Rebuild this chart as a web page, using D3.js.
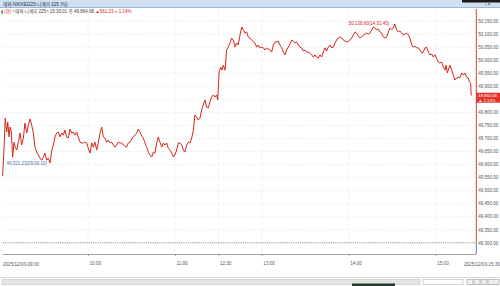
<!DOCTYPE html>
<html>
<head>
<meta charset="utf-8">
<script src="https://cdn.jsdelivr.net/npm/d3@7"></script>
<style>
  body { margin: 0; background: #fff; }
  svg { display: block; font-family: "Liberation Sans", "Noto Sans CJK KR", sans-serif; }
</style>
</head>
<body>
<script>
// trading minutes since 09:00 (lunch 11:30-12:30 removed)
var mins = [1.1, 2.0, 2.9, 3.9, 4.6, 5.5, 6.2, 7.1, 8.0, 8.9, 9.8, 10.8, 11.9, 13.1, 14.2, 15.4, 16.5, 17.7, 18.8, 20.0,
  21.1, 22.3, 23.4, 24.6, 25.7, 26.9, 28.0, 29.2, 30.3, 31.5, 32.6, 33.8, 35.0, 36.1, 37.2, 38.4, 39.5, 40.7, 41.9, 43.0,
  44.1, 45.3, 46.4, 47.6, 48.8, 49.9, 51.0, 52.2, 53.3, 54.5, 55.7, 56.8, 57.9, 59.1, 60.2, 61.4, 62.6, 63.7, 64.8, 66.0,
  67.1, 68.3, 69.5, 70.6, 71.7, 72.9, 74.0, 75.2, 76.4, 77.5, 78.6, 79.8, 80.9, 82.1, 83.3, 84.4, 85.5, 86.7, 87.8, 89.0,
  90.2, 91.3, 92.4, 93.6, 94.7, 95.9, 97.1, 98.2, 99.3, 100.5, 101.6, 102.8, 104.0, 105.1, 106.2, 107.4, 108.5, 109.7, 110.9, 112.0,
  113.1, 114.3, 115.4, 116.6, 117.8, 118.9, 120.0, 121.2, 122.3, 123.5, 124.7, 125.8, 126.9, 128.1, 129.2, 130.4, 131.6, 132.7, 133.8, 135.0,
  136.1, 137.3, 138.4, 139.5, 140.7, 141.9, 143.0, 144.2, 145.3, 146.5, 147.6, 148.8, 149.5,
  150.5, 151.6, 152.5, 153.4, 154.6, 155.7, 156.8, 158.0, 159.2, 160.3, 161.5, 162.6, 163.7, 164.9, 166.1, 167.2, 168.4, 169.5, 170.6, 171.8,
  173.0, 174.1, 175.2, 176.4, 177.5, 178.7, 179.9, 181.0, 182.1, 183.3, 184.4, 185.6, 186.8, 187.9, 189.1, 190.2, 191.3, 192.5, 193.7, 194.8,
  196.0, 197.1, 198.2, 199.4, 200.6, 201.7, 202.9, 204.0, 205.1, 206.3, 207.5, 208.6, 209.8, 210.9, 212.1, 213.2, 214.4, 215.5, 216.7, 217.8,
  218.9, 220.1, 221.3, 222.4, 223.6, 224.7, 225.8, 227.0, 228.2, 229.3, 230.5, 231.6, 232.7, 233.9, 235.1, 236.2, 237.4, 238.5, 239.7, 240.8,
  242.0, 243.1, 244.3, 245.4, 246.6, 247.7, 248.9, 250.0, 251.2, 252.3, 253.5, 254.6, 255.8, 256.9, 258.1, 259.2, 260.4, 261.5, 262.7, 263.8,
  265.0, 266.2, 267.3, 268.4, 269.6, 270.7, 271.75, 273.0, 274.2, 275.3, 276.5, 277.6, 278.8, 279.9, 281.1, 282.2, 283.4, 284.5, 285.7, 286.8,
  288.0, 289.1, 290.3, 291.4, 292.6, 293.7, 294.9, 296.0, 297.2, 298.3, 299.5, 300.6, 301.8, 302.9, 304.1, 305.2, 306.4, 307.1, 308.0, 309.1,
  309.8, 311.0, 312.1, 313.3, 314.5, 315.6, 316.7, 317.9, 319.0, 320.2, 321.3, 322.5, 323.2, 324.1, 324.5];

var prices = [49556, 49656, 49778, 49725, 49763, 49706, 49744, 49725, 49629, 49686, 49667, 49656, 49686, 49721, 49675, 49702, 49759, 49721, 49752, 49775,
  49752, 49721, 49667, 49648, 49637, 49625, 49617, 49629, 49644, 49617, 49625, 49606, 49656, 49675, 49706, 49721, 49725, 49706, 49721, 49713,
  49732, 49706, 49702, 49736, 49721, 49725, 49713, 49725, 49706, 49686, 49683, 49683, 49686, 49683, 49663, 49644, 49683, 49667, 49686, 49656,
  49683, 49721, 49744, 49706, 49702, 49686, 49694, 49683, 49686, 49675, 49667, 49675, 49686, 49683, 49683, 49675, 49671, 49667, 49683, 49686,
  49698, 49706, 49713, 49721, 49736, 49725, 49709, 49702, 49683, 49667, 49648, 49637, 49629, 49648, 49644, 49683, 49706, 49686, 49667, 49683,
  49675, 49683, 49663, 49656, 49644, 49629, 49637, 49656, 49683, 49683, 49675, 49656, 49648, 49675, 49686, 49683, 49702, 49732, 49790, 49782,
  49771, 49778, 49809, 49828, 49847, 49820, 49817, 49840, 49859, 49867, 49859, 49867, 49847,
  49955, 49974, 49962, 49981, 49962, 50039, 50050, 50066, 50085, 50077, 50050, 50066, 50058, 50096, 50127, 50116, 50104, 50108, 50089, 50085,
  50077, 50070, 50066, 50050, 50058, 50047, 50050, 50047, 50039, 50047, 50043, 50039, 50031, 50058, 50070, 50070, 50073, 50058, 50047, 50031,
  50020, 50039, 50050, 50062, 50077, 50073, 50066, 50070, 50058, 50050, 50047, 50035, 50039, 50031, 50031, 50027, 50020, 50012, 50020, 50012,
  50008, 50020, 50012, 50031, 50047, 50035, 50050, 50058, 50047, 50050, 50066, 50077, 50085, 50089, 50085, 50077, 50073, 50070, 50073, 50077,
  50085, 50096, 50108, 50104, 50093, 50085, 50089, 50096, 50100, 50104, 50100, 50104, 50116, 50127, 50123, 50116, 50119, 50108, 50104, 50089,
  50085, 50089, 50108, 50123, 50116, 50123, 50138.60, 50116, 50108, 50112, 50104, 50096, 50100, 50104, 50096, 50085, 50058, 50050, 50054, 50047,
  50047, 50039, 50027, 50031, 50047, 50050, 50031, 50020, 50024, 50012, 50020, 50008, 49993, 49989, 49993, 49974, 49962, 49981, 49951, 49970,
  49981, 49962, 49943, 49924, 49932, 49935, 49932, 49951, 49943, 49951, 49935, 49932, 49916, 49912, 49864.68];

var xTickMins = [60, 120, 150, 180, 240, 300];
var xTickLabels = ["10:00", "11:00", "12:30", "13:00", "14:00", "15:00"];
var xEndLabels = ["2025/12/03-09:00", "2025/12/03-15:30"];
var yTicks = d3.range(49300, 50150.1, 50);

var prevClose = 49303.45;
var lastPrice = 49864.68;
var change = 561.23;
var changePct = 1.14;
var maxInfo = { price: 50138.60, time: "14:31:45", min: 271.75 };
var minInfo = { price: 49521.23, time: "09:00:10" };

(function() {
  var width = 500;
  var height = 286;
  var red = "#d8261b";
  var blue = "#4a6fa8";

  var svg = d3.select("body")
    .append("svg")
    .attr("width", width)
    .attr("height", height);

  var x = d3.scaleLinear().domain([0, 328]).range([1.06, 476.3]);
  var y = d3.scaleLinear().domain([49300, 50150]).range([243, 21]);
  var plotTop = 9, plotBottom = 254, plotLeft = 3, plotRight = x.range()[1];
  var yl = y(lastPrice);

  // title bar
  svg.append("rect").attr("x", 0).attr("y", 0).attr("width", width).attr("height", 7.5)
    .attr("fill", "#cfe0f1");
  svg.append("line").attr("x1", 0).attr("x2", width).attr("y1", 7.5).attr("y2", 7.5)
    .attr("stroke", "#86a9d2").attr("stroke-width", 0.8);
  svg.append("rect").attr("x", 462).attr("y", 0).attr("width", 38).attr("height", 2.5).attr("fill", "#1a1a1a");
  svg.append("text").attr("x", 3).attr("y", 5.6).attr("font-size", 4.6).attr("fill", "#1d2b44")
    .text("해외-NIKKEI225-니케이 225 (틱)");
  svg.append("text").attr("x", 485).attr("y", 6).attr("font-size", 4.5).attr("fill", "#333").text("▫ ×");

  // legend line
  svg.append("rect").attr("x", 1.5).attr("y", 10.2).attr("width", 1).attr("height", 3.6).attr("fill", "#222");
  var leg = svg.append("text").attr("x", 4).attr("y", 13.4).attr("font-size", 4.5).attr("fill", "#444");
  leg.append("tspan").attr("fill", red).text("(현)");
  leg.append("tspan").text(" <해외-니케이 225> 15:30:01 종:" + d3.format(",.2f")(lastPrice) + " ");
  leg.append("tspan").attr("fill", red).text("▲" + d3.format(",.2f")(change) + " + " + changePct.toFixed(2) + "%");

  // grid
  svg.append("g").selectAll("line").data(yTicks).enter().append("line")
    .attr("x1", plotLeft).attr("x2", plotRight)
    .attr("y1", function(d) { return y(d); }).attr("y2", function(d) { return y(d); })
    .attr("stroke", "#d6d6d6").attr("stroke-width", 0.6).attr("stroke-dasharray", "1,1.5");
  svg.append("g").selectAll("line").data(xTickMins).enter().append("line")
    .attr("x1", function(d) { return x(d); }).attr("x2", function(d) { return x(d); })
    .attr("y1", plotTop).attr("y2", plotBottom)
    .attr("stroke", "#d6d6d6").attr("stroke-width", 0.6).attr("stroke-dasharray", "1,1.5");

  // previous close
  svg.append("line").attr("x1", plotLeft).attr("x2", plotRight)
    .attr("y1", y(prevClose) + 0.6).attr("y2", y(prevClose) + 0.6)
    .attr("stroke", "#444").attr("stroke-width", 0.6).attr("stroke-dasharray", "1,1.2");

  // price line
  var pts = mins.map(function(m, i) { return [m, prices[i]]; });
  svg.append("path").datum(pts)
    .attr("fill", "none").attr("stroke", red).attr("stroke-width", 1)
    .attr("stroke-linejoin", "round")
    .attr("d", d3.line().x(function(d) { return x(d[0]); }).y(function(d) { return y(d[1]); }));

  // x axis
  var xAxis = svg.append("g").attr("transform", "translate(0," + plotBottom + ")")
    .call(d3.axisBottom(x).tickValues(xTickMins)
      .tickFormat(function(d, i) { return xTickLabels[i]; }).tickSize(2).tickSizeOuter(0));
  xAxis.select(".domain").attr("stroke", "#777").attr("stroke-width", 0.7)
    .attr("d", "M" + plotLeft + ",0.5H" + plotRight);
  xAxis.selectAll(".tick line").attr("stroke", "#777").attr("stroke-width", 0.6);
  xAxis.selectAll(".tick text").attr("font-size", 4.6).attr("fill", "#555")
    .attr("text-anchor", "start").attr("dx", 1).attr("y", 8);
  svg.append("text").attr("x", 3).attr("y", 266).attr("font-size", 4.6).attr("fill", "#555").text(xEndLabels[0]);
  svg.append("text").attr("x", 500).attr("y", 266).attr("text-anchor", "end")
    .attr("font-size", 4.6).attr("fill", "#555").text(xEndLabels[1]);

  // right price axis: red above previous close, blue below
  svg.append("line").attr("x1", plotRight).attr("x2", plotRight).attr("y1", plotTop).attr("y2", y(prevClose))
    .attr("stroke", red).attr("stroke-width", 0.9);
  svg.append("line").attr("x1", plotRight).attr("x2", plotRight).attr("y1", y(prevClose)).attr("y2", plotBottom)
    .attr("stroke", blue).attr("stroke-width", 0.9);
  // the label hidden behind the last-price box is left out, as in the original
  svg.append("g").selectAll("text")
    .data(yTicks.filter(function(d) { return Math.abs(y(d) - (yl + 2.2)) > 6; }))
    .enter().append("text")
    .attr("x", plotRight + 2).attr("y", function(d) { return y(d) + 1.6; })
    .attr("font-size", 4.5).attr("fill", "#555")
    .text(function(d) { return d3.format(",.2f")(d); });

  // last price box
  svg.append("rect").attr("x", plotRight).attr("y", yl - 2.8).attr("width", width - plotRight).attr("height", 10)
    .attr("fill", "#e2342b");
  svg.append("text").attr("x", plotRight + 2).attr("y", yl + 1.2).attr("font-size", 4.2).attr("fill", "#fff")
    .text(d3.format(",.2f")(lastPrice));
  svg.append("text").attr("x", plotRight + 2).attr("y", yl + 6.2).attr("font-size", 4.2).attr("fill", "#fff")
    .text("▲ " + changePct.toFixed(2) + "%");

  // max / min annotations
  svg.append("text").attr("x", x(maxInfo.min) - 1).attr("y", y(maxInfo.price) + 1.5)
    .attr("text-anchor", "end").attr("font-size", 4.5).attr("fill", red)
    .text(d3.format(",.2f")(maxInfo.price) + "(" + maxInfo.time + ")→");
  svg.append("text").attr("x", 2).attr("y", y(minInfo.price) - 20.5)
    .attr("font-size", 4.5).attr("fill", blue)
    .text("←" + d3.format(",.2f")(minInfo.price) + "(" + minInfo.time + ")");

  // bottom scroll bar
  svg.append("line").attr("x1", 0).attr("x2", width).attr("y1", 277.5).attr("y2", 277.5)
    .attr("stroke", "#bbb").attr("stroke-width", 0.6);
  svg.append("rect").attr("x", 2).attr("y", 279.5).attr("width", 418).attr("height", 5)
    .attr("fill", "#e4e4e4").attr("stroke", "#b8b8b8").attr("stroke-width", 0.5);
  svg.append("rect").attr("x", 352).attr("y", 283.5).attr("width", 43).attr("height", 3)
    .attr("fill", "#1f3d2c");
  svg.append("rect").attr("x", 423).attr("y", 279.5).attr("width", 40).attr("height", 5)
    .attr("fill", "#fff").attr("stroke", "#aaa").attr("stroke-width", 0.5);
  svg.append("g").selectAll("rect").data([467, 474, 481, 488]).enter().append("rect")
    .attr("x", function(d) { return d; }).attr("y", 279.5)
    .attr("width", function(d, i) { return i === 3 ? 11 : 6; }).attr("height", 5)
    .attr("fill", "#eee").attr("stroke", "#888").attr("stroke-width", 0.5);
})();
</script>
</body>
</html>
